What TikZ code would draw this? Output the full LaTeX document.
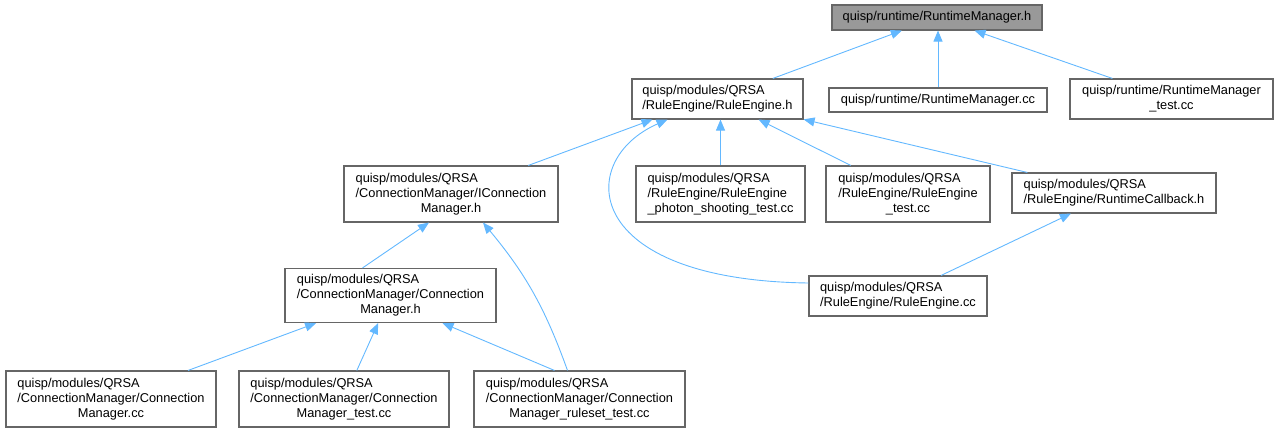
\documentclass[tikz,border=0pt]{standalone}
\usepackage{fontspec}
\setmainfont{Liberation Sans}
\usepackage{xcolor}
\definecolor{edgeblue}{RGB}{99,184,255}
\definecolor{boxline}{RGB}{102,102,102}
\definecolor{rootfill}{RGB}{153,153,153}
\usepackage{tikz}
\usetikzlibrary{arrows.meta, positioning, calc}
\newcommand{\fname}[2]{\begin{tabular}{@{}l@{}}#1\\\multicolumn{1}{@{}c@{}}{#2}\end{tabular}}

\begin{document}
\begin{tikzpicture}[x=1pt, y=-1pt,
    filebox/.style={draw=boxline, fill=white, line width=1.1pt, inner sep=0pt,
      font=\fontsize{12.8}{15}\selectfont},
    dep/.style={draw=edgeblue, line width=0.9pt, -{Triangle[length=11pt,width=9pt]}}]
    \useasboundingbox (0,0) rectangle (1280,432);

    % top row
    \node[filebox, fill=rootfill, minimum width=210pt, minimum height=25pt] (rmh) at (937,17.5) {quisp/runtime/RuntimeManager.h};
    \node[filebox, minimum width=171pt, minimum height=40pt] (reh) at (717.5,99) {\fname{quisp/modules/QRSA}{/RuleEngine/RuleEngine.h}};
    \node[filebox, minimum width=218pt, minimum height=24pt] (rmcc) at (938,100) {quisp/runtime/RuntimeManager.cc};
    \node[filebox, minimum width=203pt, minimum height=40pt] (rmtest) at (1171.5,99) {\fname{quisp/runtime/RuntimeManager}{\_test.cc}};

    % rule engine users
    \node[filebox, minimum width=214pt, minimum height=56pt] (icmh) at (451,194) {\fname{quisp/modules/QRSA\\/ConnectionManager/IConnection}{Manager.h}};
    \node[filebox, minimum width=169pt, minimum height=56pt] (rephoton) at (720.5,194) {\fname{quisp/modules/QRSA\\/RuleEngine/RuleEngine}{\_photon\_shooting\_test.cc}};
    \node[filebox, minimum width=164pt, minimum height=56pt] (retest) at (908,194) {\fname{quisp/modules/QRSA\\/RuleEngine/RuleEngine}{\_test.cc}};
    \node[filebox, minimum width=204pt, minimum height=40pt] (rcb) at (1114,193) {\fname{quisp/modules/QRSA}{/RuleEngine/RuntimeCallback.h}};

    \node[filebox, minimum width=211pt, minimum height=54pt] (cmh) at (390.5,295.5) {\fname{quisp/modules/QRSA\\/ConnectionManager/Connection}{Manager.h}};
    \node[filebox, minimum width=178pt, minimum height=40pt] (recc) at (898,296) {\fname{quisp/modules/QRSA}{/RuleEngine/RuleEngine.cc}};

    % bottom row
    \node[filebox, minimum width=210pt, minimum height=56pt] (cmcc) at (111,399) {\fname{quisp/modules/QRSA\\/ConnectionManager/Connection}{Manager.cc}};
    \node[filebox, minimum width=210pt, minimum height=56pt] (cmtest) at (344,399) {\fname{quisp/modules/QRSA\\/ConnectionManager/Connection}{Manager\_test.cc}};
    \node[filebox, minimum width=211pt, minimum height=56pt] (cmruleset) at (579.5,399) {\fname{quisp/modules/QRSA\\/ConnectionManager/Connection}{Manager\_ruleset\_test.cc}};

    % includes
    \draw[dep] (reh) -- (rmh);
    \draw[dep] (rmcc) -- (rmcc |- rmh.south);
    \draw[dep] (rmtest) -- (rmh);
    \draw[dep] (icmh) -- ([xshift=-65pt]reh.south);
    \draw[dep] (rephoton) -- (rephoton |- reh.south);
    \draw[dep] (retest) -- (reh);
    \draw[dep] (rcb) -- (reh);
    \draw[dep] ([yshift=13pt]recc.west) .. controls (580,280) and (575,160) .. ([xshift=-50pt]reh.south);
    \draw[dep] (recc) -- (rcb);
    \draw[dep] ([xshift=-28pt]cmh.north) -- ([xshift=-22pt]icmh.south);
    \draw[dep] ([xshift=-12pt]cmruleset.north) to[bend right=10] ([xshift=32pt]icmh.south);
    \draw[dep] (cmcc) -- (cmh);
    \draw[dep] (cmtest) -- (cmh);
    \draw[dep] ([xshift=-25pt]cmruleset.north) -- ([xshift=52pt]cmh.south);
\end{tikzpicture}
\end{document}
